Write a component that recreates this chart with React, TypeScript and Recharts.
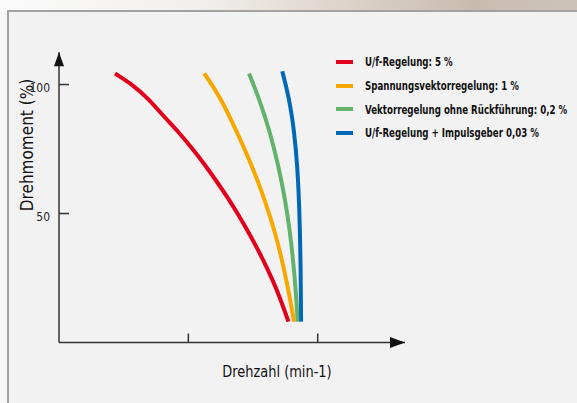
import { LineChart, Line, XAxis, YAxis, Legend, ReferenceDot } from "recharts";

const SERIES_NAMES = [
  "U/f-Regelung: 5 %",
  "Spannungsvektorregelung: 1 %",
  "Vektorregelung ohne Rückführung: 0,2 %",
  "U/f-Regelung + Impulsgeber 0,03 %",
];
const COLORS = ["#e3001b", "#f8a700", "#62b26c", "#0068b5"];

// Drehmoment (%) levels
const RED_TORQUE = [104.3, 99.8, 94.7, 87.6, 81.7, 75.3, 68.8, 62.3, 55.9, 49.4, 42.9, 36.5, 30.0, 23.6, 17.1, 8.1];
const TORQUE = [104.3, 94.7, 81.7, 68.8, 55.9, 42.9, 30.0, 17.1, 8.1];
const BLUE_TORQUE = [105.2, 94.7, 81.7, 68.8, 55.9, 42.9, 30.0, 17.1, 8.1];
// Drehzahl (min-1, ticks at 1000 / 2000)
const RED_X = [433, 572, 688, 811, 923, 1029, 1129, 1221, 1308, 1388, 1463, 1533, 1598, 1657, 1710, 1774];
const ORANGE_X = [1123, 1253, 1374, 1490, 1587, 1670, 1734, 1786, 1817];
const GREEN_X = [1469, 1546, 1631, 1695, 1747, 1786, 1814, 1835, 1845];
const BLUE_X = [1726, 1780, 1819, 1842, 1855, 1863, 1868, 1870, 1872];

const X_TICKS = [1000, 2000];
const Y_TICKS = [50, 100];
const X_MAX = 2675;
const Y_MAX = 112.5;

const zip = (xs: number[], ys: number[]) => xs.map((x, i) => ({ x, y: ys[i] }));
const SERIES = [
  zip(RED_X, RED_TORQUE),
  zip(ORANGE_X, TORQUE),
  zip(GREEN_X, TORQUE),
  zip(BLUE_X, BLUE_TORQUE),
];

const FONT = '"DejaVu Sans Condensed", "DejaVu Sans", sans-serif';
const AXIS = "#333";

const YTick = ({ x, y, payload }: any) => (
  <g>
    <line x1={x + 9} x2={x + 19} y1={y} y2={y} stroke={AXIS} strokeWidth={1.5} />
    <text x={x} y={y} dy={7} textAnchor="end" fontFamily={FONT} fontSize={12} fill="#222">
      {payload.value}
    </text>
  </g>
);

const XTick = ({ x, y }: any) => (
  <line x1={x} x2={x} y1={y} y2={y - 9} stroke={AXIS} strokeWidth={1.5} />
);

const UpArrow = ({ cx, cy }: any) => (
  <polygon points={`${cx},${cy} ${cx - 5},${cy + 14} ${cx + 5},${cy + 14}`} fill="#111" />
);
const RightArrow = ({ cx, cy }: any) => (
  <polygon points={`${cx},${cy} ${cx - 15},${cy - 5.5} ${cx - 15},${cy + 5.5}`} fill="#111" />
);

const renderLegend = (props: any) => {
  const items = [...(props.payload || [])].sort(
    (a: any, b: any) => SERIES_NAMES.indexOf(a.value) - SERIES_NAMES.indexOf(b.value)
  );
  return (
    <ul style={{ listStyle: "none", margin: 0, padding: 0 }}>
      {items.map((entry: any) => (
        <li key={entry.value} style={{ display: "flex", alignItems: "center", height: 23.7 }}>
          <span style={{ flexShrink: 0, width: 17, height: 4, background: entry.color, marginRight: 12 }} />
          <span
            style={{
              display: "inline-block",
              fontFamily: FONT,
              fontSize: 12.5,
              fontWeight: 700,
              color: "#111",
              whiteSpace: "nowrap",
              transform: "scaleX(0.77)",
              transformOrigin: "left center",
            }}
          >
            {entry.value}
          </span>
        </li>
      ))}
    </ul>
  );
};

export default function App() {
  return (
    <div style={{ position: "fixed", left: 0, top: 0, width: 577, height: 403, overflow: "hidden", background: "#f7f7f7" }}>
      <div
        style={{
          position: "absolute",
          left: 0,
          top: 0,
          width: 577,
          height: 11,
          background: "linear-gradient(90deg, #fbfbfb 0%, #f1efed 35%, #dcd3ca 60%, #c9bcaf 82%, #cdc3b9 100%)",
        }}
      />
      <div
        style={{
          position: "absolute",
          left: 7,
          top: 10,
          width: 600,
          height: 420,
          background: "#f2f2f2",
          borderLeft: "2px solid #a2a2a2",
          borderTop: "2px solid #a2a2a2",
        }}
      />
      <div style={{ position: "absolute", left: 0, top: 0 }}>
        <LineChart layout="vertical" width={577} height={403} margin={{ top: 52.3, right: 172, bottom: 30.5, left: 19 }}>
          <XAxis
            type="number"
            dataKey="x"
            domain={[0, X_MAX]}
            ticks={X_TICKS}
            tick={<XTick />}
            tickLine={false}
            tickSize={0}
            tickMargin={0}
            height={30}
            axisLine={{ stroke: AXIS, strokeWidth: 1.5 }}
            allowDataOverflow
          />
          <YAxis
            type="number"
            dataKey="y"
            reversed
            domain={[0, Y_MAX]}
            ticks={Y_TICKS}
            tick={<YTick />}
            tickLine={false}
            tickSize={0}
            tickMargin={9}
            width={40}
            axisLine={{ stroke: AXIS, strokeWidth: 1.5 }}
            allowDataOverflow
          />
          {SERIES.map((data, i) => (
            <Line
              key={SERIES_NAMES[i]}
              data={data}
              dataKey="x"
              name={SERIES_NAMES[i]}
              type="basis"
              stroke={COLORS[i]}
              strokeWidth={4}
              dot={false}
              activeDot={false}
              isAnimationActive={false}
            />
          ))}
          <ReferenceDot x={0} y={Y_MAX} ifOverflow="visible" shape={<UpArrow />} />
          <ReferenceDot x={X_MAX} y={0} ifOverflow="visible" shape={<RightArrow />} />
          <Legend
            layout="vertical"
            align="center"
            verticalAlign="middle"
            content={renderLegend}
            wrapperStyle={{ left: 336, top: 50, width: 240 }}
          />
        </LineChart>
      </div>
      <div
        style={{
          position: "absolute",
          left: 27,
          top: 144.5,
          transform: "translate(-50%, -50%) rotate(-90deg)",
          fontFamily: FONT,
          fontSize: 17,
          color: "#111",
          whiteSpace: "nowrap",
        }}
      >
        Drehmoment (%)
      </div>
      <div
        style={{
          position: "absolute",
          left: 276.7,
          top: 371,
          transform: "translate(-50%, -50%) scaleX(0.9)",
          fontFamily: FONT,
          fontSize: 16,
          color: "#111",
          whiteSpace: "nowrap",
        }}
      >
        Drehzahl (min-1)
      </div>
    </div>
  );
}
